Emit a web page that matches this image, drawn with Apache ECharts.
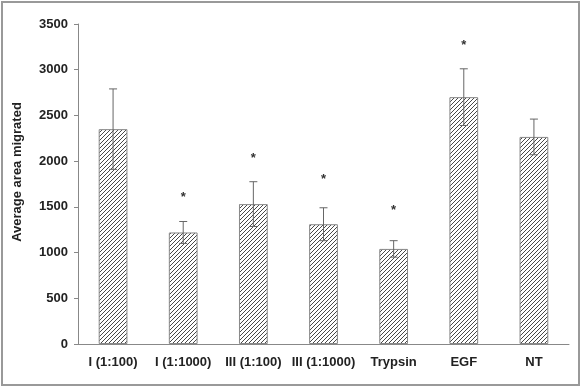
<!DOCTYPE html>
<html>
<head>
<meta charset="utf-8">
<script src="https://cdn.jsdelivr.net/npm/echarts@6/dist/echarts.min.js"></script>
<style>
  html, body { margin: 0; padding: 0; background: #fff; }
  #chart { width: 581px; height: 388px; }
</style>
</head>
<body>
<div id="chart"></div>
<script>
const categories = ['I (1:100)', 'I (1:1000)', 'III (1:100)', 'III (1:1000)', 'Trypsin', 'EGF', 'NT']
const means = [2350, 1220, 1530, 1310, 1040, 2700, 2265]
const errors = [440, 120, 245, 180, 90, 310, 195]
// asterisk positions (data units) above the bars marked significant
const starValues = [null, 1600, 2030, 1800, 1460, 3270, null]

// hatch pattern: thin dark diagonal lines "////"
function makeHatch() {
  const c = document.createElement('canvas')
  c.width = 4
  c.height = 4
  const ctx = c.getContext('2d')
  ctx.fillStyle = '#fff'
  ctx.fillRect(0, 0, 4, 4)
  ctx.strokeStyle = '#333'
  ctx.lineWidth = 0.9
  ctx.beginPath()
  ctx.moveTo(0, 4)
  ctx.lineTo(4, 0)
  ctx.moveTo(-1, 1)
  ctx.lineTo(1, -1)
  ctx.moveTo(3, 5)
  ctx.lineTo(5, 3)
  ctx.stroke()
  return c
}

const errData = means.map((m, i) => [i, m - errors[i], m + errors[i]])
const starData = []
starValues.forEach((v, i) => { if (v !== null) starData.push([i, v]) })

const font = 'Liberation Sans, Arial, sans-serif'
const chart = echarts.init(document.getElementById('chart'), null, { renderer: 'canvas' })
chart.setOption({
  animation: false,
  graphic: [{
    type: 'rect',
    shape: { x: 2, y: 2, width: 577, height: 383 },
    style: { fill: 'none', stroke: '#999', lineWidth: 2 },
    silent: true
  }],
  grid: { left: 78, right: 12, top: 24, bottom: 44 },
  xAxis: {
    type: 'category',
    data: categories,
    axisLine: { lineStyle: { color: '#888', width: 1 } },
    axisTick: { length: 4, lineStyle: { color: '#888' } },
    axisLabel: { interval: 0, color: '#222', fontWeight: 'bold', fontSize: 13, fontFamily: font, margin: 12 }
  },
  yAxis: {
    type: 'value',
    min: 0,
    max: 3500,
    interval: 500,
    name: 'Average area migrated',
    nameLocation: 'middle',
    nameGap: 54,
    nameTextStyle: { color: '#222', fontWeight: 'bold', fontSize: 13, fontFamily: font, padding: [0, 0, 0, 24] },
    axisLine: { show: true, lineStyle: { color: '#888', width: 1 } },
    axisTick: { show: true, length: 4, lineStyle: { color: '#888' } },
    axisLabel: { color: '#222', fontWeight: 'bold', fontSize: 13, fontFamily: font, margin: 10, formatter: v => String(v) },
    splitLine: { show: false }
  },
  series: [
    {
      type: 'bar',
      data: means,
      barWidth: '41%',
      itemStyle: {
        color: { image: makeHatch(), repeat: 'repeat' },
        borderColor: '#888',
        borderWidth: 1
      }
    },
    {
      type: 'custom',
      data: errData,
      z: 10,
      renderItem: function (params, api) {
        const x = api.value(0)
        const lo = api.coord([x, api.value(1)])
        const hi = api.coord([x, api.value(2)])
        const cap = 4
        const style = { stroke: '#666', lineWidth: 1 }
        return {
          type: 'group',
          children: [
            { type: 'line', shape: { x1: hi[0], y1: hi[1], x2: lo[0], y2: lo[1] }, style: style },
            { type: 'line', shape: { x1: hi[0] - cap, y1: hi[1], x2: hi[0] + cap, y2: hi[1] }, style: style },
            { type: 'line', shape: { x1: lo[0] - cap, y1: lo[1], x2: lo[0] + cap, y2: lo[1] }, style: style }
          ]
        }
      }
    },
    {
      type: 'custom',
      data: starData,
      z: 10,
      renderItem: function (params, api) {
        const p = api.coord([api.value(0), api.value(1)])
        return {
          type: 'text',
          x: p[0],
          y: p[1],
          style: {
            text: '*',
            fill: '#333',
            font: 'bold 13px ' + font,
            align: 'center',
            verticalAlign: 'middle'
          }
        }
      }
    }
  ]
})
</script>
</body>
</html>
